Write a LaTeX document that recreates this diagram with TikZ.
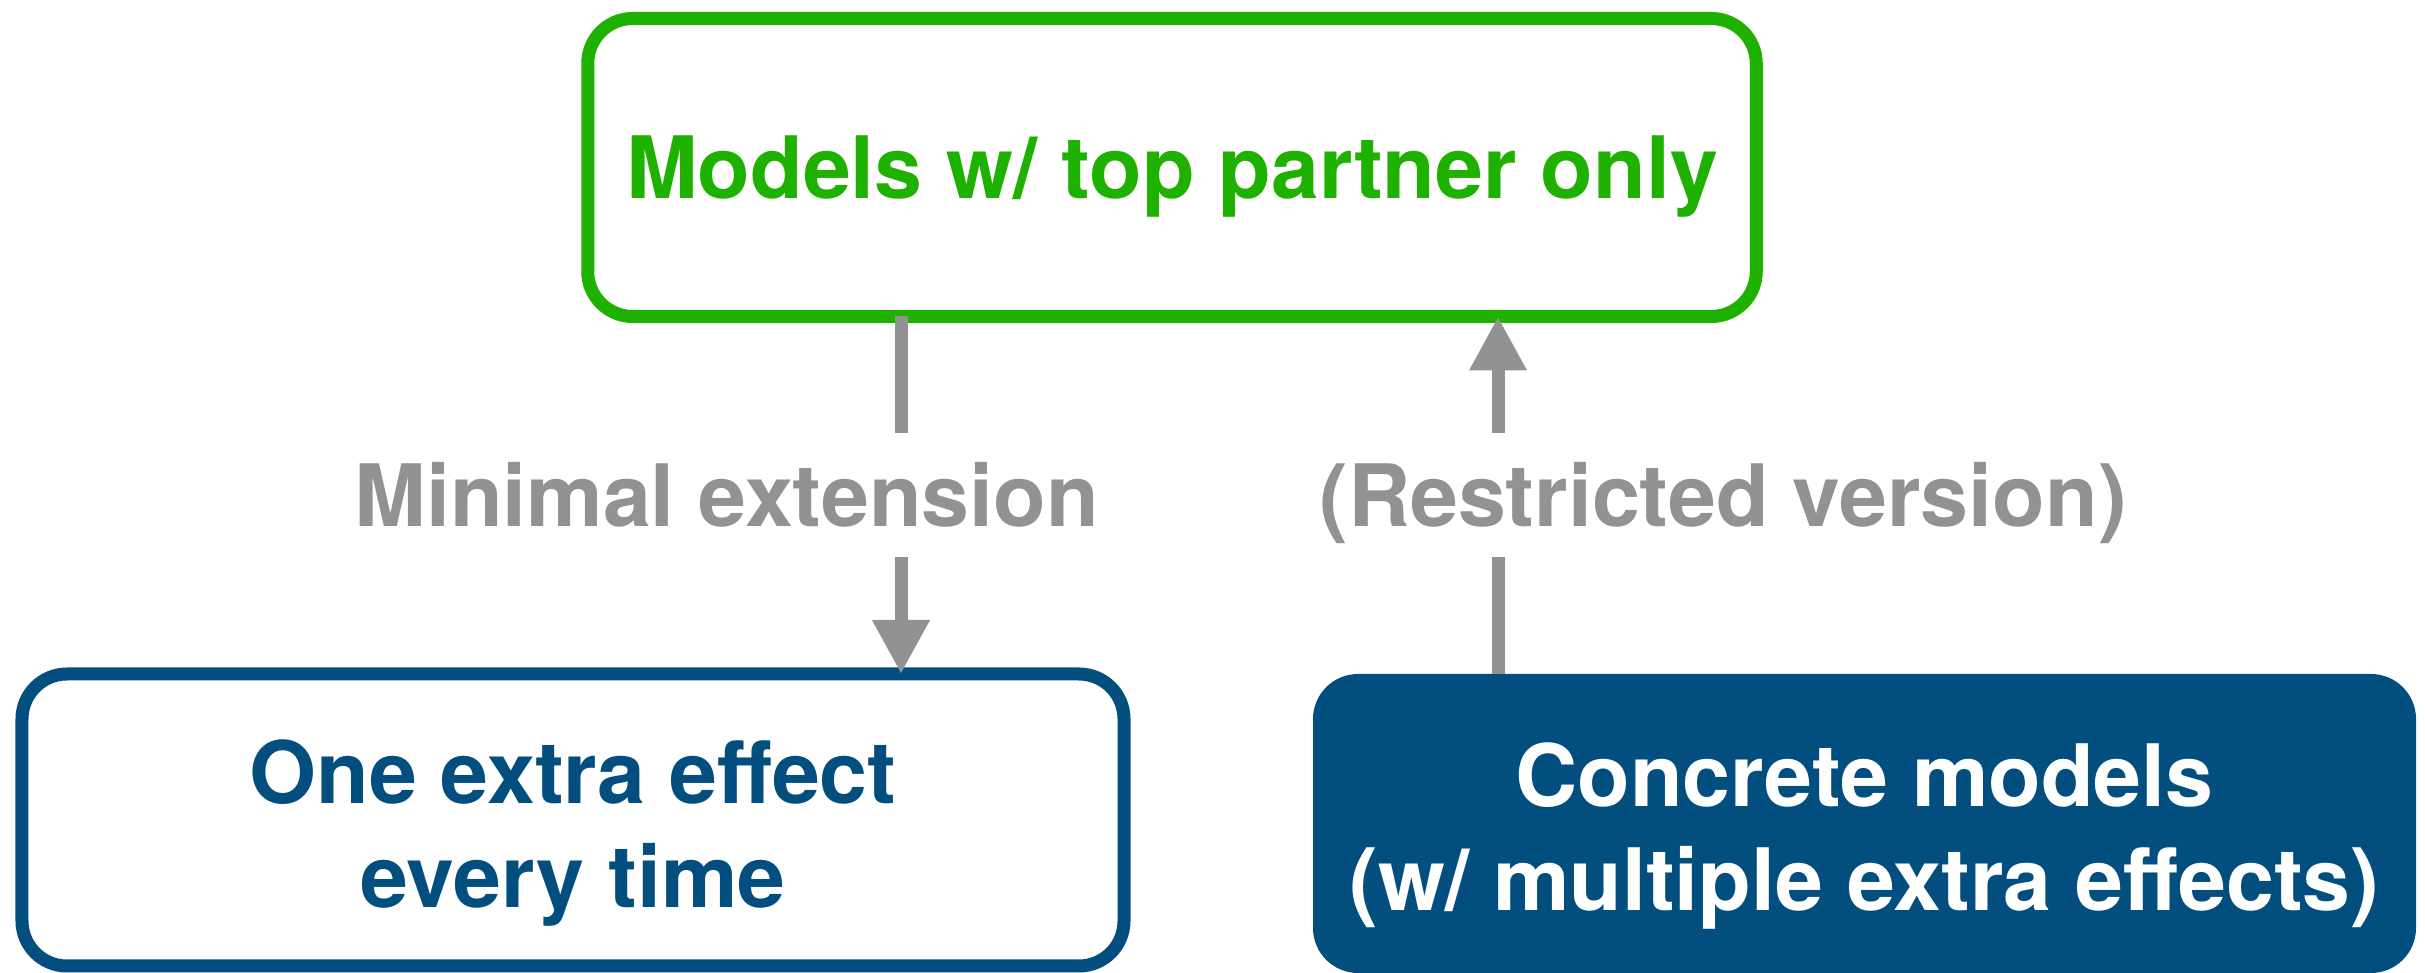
\documentclass[tikz,border=0pt]{standalone}
\usepackage{fontspec}
\setmainfont{TeX Gyre Heros}
\usepackage{tikz}
\usetikzlibrary{arrows.meta}

\definecolor{topgreen}{RGB}{30,177,0}
\definecolor{modelblue}{RGB}{2,79,127}
\definecolor{flowgray}{RGB}{146,146,146}

% pushes two-line box text a little lower
\newcommand{\boxstrut}{\rule{0pt}{0.89cm}}

\begin{document}
\begin{tikzpicture}[x=1cm, y=1cm, >={Triangle[width=0.54cm,length=0.54cm]},
        every box/.style={rounded corners=0.45cm, outer sep=0pt, align=center,
            font=\bfseries\fontsize{24.5}{29.6}\selectfont},
        box top/.style={draw=topgreen, line width=0.13cm, text=topgreen,
            minimum width=11.685cm, minimum height=2.98cm, text depth=0pt},
        box one/.style={draw=modelblue, line width=0.13cm, text=modelblue,
            minimum width=11.02cm, minimum height=2.92cm},
        box many/.style={fill=modelblue, text=white,
            minimum width=11.03cm, minimum height=2.99cm},
        flow/.style={draw=flowgray, line width=0.13cm},
        flow label/.style={fill=white, text=flowgray, inner sep=0pt,
            text height=0.62cm, text depth=0pt, minimum height=1.24cm,
            font=\bfseries\fontsize{24.5}{29.6}\selectfont}]

    \useasboundingbox (0,0) rectangle (24.25,9.73);

    % draw nodes
        % top
        \node [every box, box top] (top) at (11.72,8.055) {Models w/ top partner only};

        % bottom row
        \node [every box, box one] (one) at (5.73,1.53) {\boxstrut One extra effect\\every time};
        \node [every box, box many] (many) at (18.645,1.495) {\boxstrut Concrete models\\(w/ multiple extra effects)};

    % arrow columns
    \coordinate (down) at (9.01,0);
    \coordinate (up) at (14.98,0);

    % top to one
    \draw [flow, ->] (top.south -| down) -- (one.north -| down)
        node [flow label, midway, xshift=-1.745cm] {Minimal extension};

    % many to top
    \draw [flow, ->] (many.north -| up) -- (top.south -| up)
        node [flow label, midway, xshift=2.25cm] {(Restricted version)};

\end{tikzpicture}
\end{document}
